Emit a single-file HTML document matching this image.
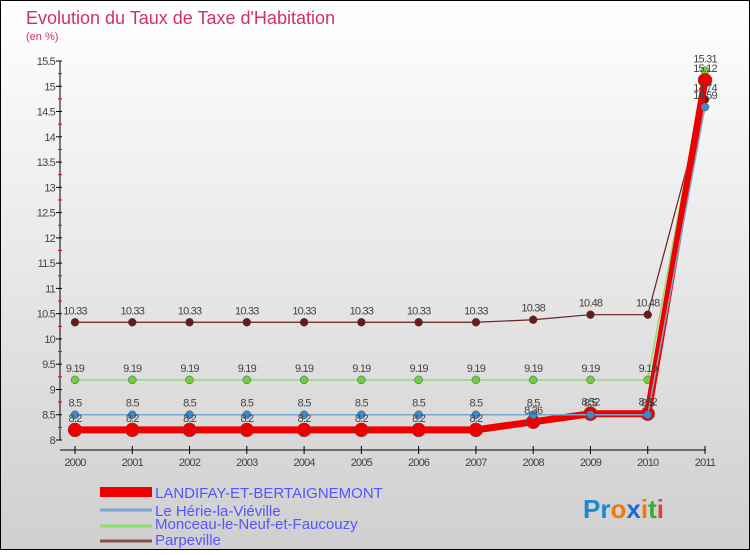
<!DOCTYPE html>
<html><head><meta charset="utf-8"><style>
body{margin:0}
#c{width:750px;height:550px;position:relative;font-family:"Liberation Sans",sans-serif;}
</style></head><body>
<div id="c">
<svg id="s" width="750" height="550" xmlns="http://www.w3.org/2000/svg">
<defs><linearGradient id="bg" x1="0" y1="0" x2="0" y2="1"><stop offset="0" stop-color="#ffffff"/><stop offset="1" stop-color="#cfcfcf"/></linearGradient></defs>
<rect x="0.5" y="0.5" width="749" height="549" fill="url(#bg)" stroke="#000"/>
<text x="26" y="24" font-size="18" fill="#d0306a">Evolution du Taux de Taxe d'Habitation</text>
<text x="26" y="40" font-size="11" fill="#d0306a">(en %)</text>
<g id="axes"></g><g id="series"></g><g id="labels"></g>
<g>
<rect x="100" y="487" width="52" height="10" fill="#e00"/>
<text x="155" y="498" font-size="15" fill="#5555ff">LANDIFAY-ET-BERTAIGNEMONT</text>
<line x1="100" x2="152" y1="510" y2="510" stroke="#7aa8cc" stroke-width="3"/>
<text x="155" y="516" font-size="15" fill="#5555ff">Le Hérie-la-Viéville</text>
<line x1="100" x2="152" y1="526" y2="526" stroke="#90dd70" stroke-width="3"/>
<text x="155" y="529" font-size="15" fill="#5555ff">Monceau-le-Neuf-et-Faucouzy</text>
<line x1="100" x2="152" y1="541" y2="541" stroke="#8a5050" stroke-width="3"/>
<text x="155" y="545" font-size="15" fill="#5555ff">Parpeville</text>
</g>
<text x="583" y="518" font-size="26" font-weight="bold"><tspan fill="#1a8ad0">Pr</tspan><tspan fill="#f07a10">o</tspan><tspan fill="#1a6ad0">x</tspan><tspan fill="#f07a10">i</tspan><tspan fill="#3aaa30">t</tspan><tspan fill="#e04040">i</tspan></text>
</svg></div>
<script>
const years=[2000,2001,2002,2003,2004,2005,2006,2007,2008,2009,2010,2011];
const landifay=[8.2,8.2,8.2,8.2,8.2,8.2,8.2,8.2,8.36,8.52,8.52,15.12];
const herie=[8.5,8.5,8.5,8.5,8.5,8.5,8.5,8.5,8.5,8.5,8.5,14.59];
const monceau=[9.19,9.19,9.19,9.19,9.19,9.19,9.19,9.19,9.19,9.19,9.19,15.31];
const parpeville=[10.33,10.33,10.33,10.33,10.33,10.33,10.33,10.33,10.38,10.48,10.48,14.74];
const yTicks=[8,8.5,9,9.5,10,10.5,11,11.5,12,12.5,13,13.5,14,14.5,15,15.5];
const NS="http://www.w3.org/2000/svg";
const xs=i=>75+i*(705-75)/11;
const ys=v=>440-(v-8)*(440-61)/7.5;
function mk(t,a,p){const e=document.createElementNS(NS,t);for(const k in a)e.setAttribute(k,a[k]);p.appendChild(e);return e;}
const ax=document.getElementById('axes');
mk('line',{x1:60,x2:60,y1:61,y2:440,stroke:'#000'},ax);
mk('line',{x1:60,x2:706,y1:450,y2:450,stroke:'#000'},ax);
yTicks.forEach(v=>{const y=ys(v);mk('line',{x1:56,x2:62,y1:y,y2:y,stroke:'#000'},ax);
 mk('line',{x1:58,x2:62,y1:ys(v+0.25),y2:ys(v+0.25),stroke:v<15.5?'#e00':'none'},ax);
 const t=mk('text',{x:55,y:y+4,'font-size':11,fill:'#444','text-anchor':'end','letter-spacing':'-0.8'},ax);t.textContent=String(v);
 });
years.forEach((yr,i)=>{const x=xs(i);mk('line',{x1:x,x2:x,y1:446,y2:454,stroke:'#000'},ax);
 const t=mk('text',{x:x,y:466,'font-size':11,fill:'#444','text-anchor':'middle','letter-spacing':'-0.8'},ax);t.textContent=yr;
 });
const sg=document.getElementById('series'),lg=document.getElementById('labels');
const defs=[[parpeville,'#6a2020','#6a1a1a',1.2,4,'parpeville'],[monceau,'#90dd70','#70cc40',1.5,4,'monceau'],[landifay,'#ee0000','#ee0000',7,7,'landifay'],[herie,'#7aa8cc','#3a8ad0',1.5,4,'herie']];
defs.forEach(([d,lc,pc,w,r,n])=>{
 const p=mk('polyline',{points:d.map((v,i)=>xs(i)+','+ys(v)).join(' '),fill:'none',stroke:lc,'stroke-width':w},sg);
 
 d.forEach((v,i)=>{const c=mk('circle',{cx:xs(i),cy:ys(v),r:r,fill:pc,stroke:'#555','stroke-width':0.5},sg);
  
  const t=mk('text',{x:xs(i),y:ys(v)-8,'font-size':11,fill:'#444','text-anchor':'middle','letter-spacing':'-0.8'},lg);t.textContent=String(v);
  });
});
</script>
</body></html>
